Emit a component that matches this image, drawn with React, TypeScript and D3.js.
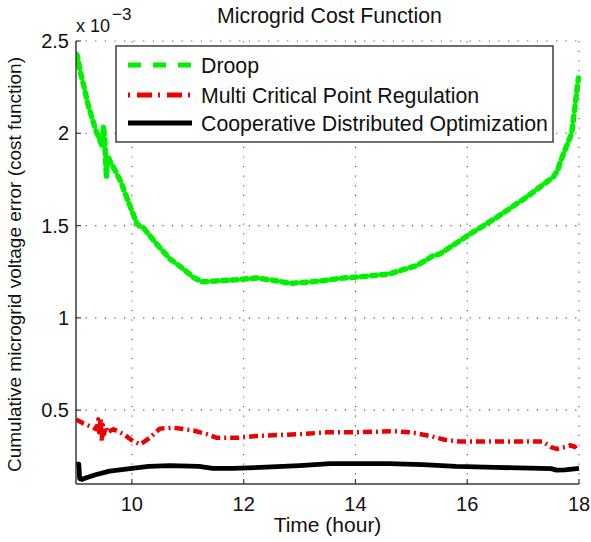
import React from "react";
import * as d3 from "d3";

const droopT = [9.0, 9.02, 9.08, 9.16, 9.22, 9.28, 9.35, 9.43, 9.47, 9.49, 9.51, 9.53, 9.545, 9.56, 9.58, 9.62, 9.68, 9.73, 9.8, 9.91, 10.0, 10.09, 10.15, 10.2, 10.32, 10.5, 10.68, 10.9, 11.1, 11.25, 11.5, 11.87, 12.23, 12.5, 12.83, 13.2, 13.54, 13.72, 14.13, 14.62, 15.09, 15.3, 15.39, 15.51, 16.01, 16.53, 17.06, 17.54, 17.62, 17.66, 17.75, 17.87, 17.93, 17.99];
const droopV = [2.43, 2.424, 2.33, 2.23, 2.15, 2.09, 2.02, 1.96, 1.93, 2.04, 1.98, 1.86, 1.76, 1.84, 1.87, 1.84, 1.81, 1.78, 1.74, 1.65, 1.58, 1.51, 1.495, 1.49, 1.445, 1.38, 1.32, 1.27, 1.22, 1.195, 1.2, 1.206, 1.216, 1.205, 1.187, 1.195, 1.206, 1.214, 1.224, 1.239, 1.283, 1.32, 1.337, 1.346, 1.446, 1.545, 1.654, 1.763, 1.8, 1.84, 1.91, 2.0, 2.15, 2.3];

const mcprT = [9.0, 9.12, 9.25, 9.37, 9.4, 9.42, 9.44, 9.46, 9.48, 9.5, 9.53, 9.56, 9.67, 9.85, 10.03, 10.15, 10.32, 10.5, 10.74, 11.1, 11.34, 11.52, 11.88, 12.24, 12.6, 13.0, 13.49, 14.0, 14.67, 15.0, 15.33, 15.6, 15.87, 16.5, 17.0, 17.35, 17.5, 17.6, 17.75, 17.85, 17.92, 17.98];
const mcprV = [0.45, 0.43, 0.413, 0.397, 0.45, 0.36, 0.46, 0.33, 0.42, 0.37, 0.41, 0.38, 0.397, 0.37, 0.33, 0.315, 0.35, 0.4, 0.405, 0.39, 0.37, 0.35, 0.35, 0.36, 0.365, 0.37, 0.38, 0.38, 0.386, 0.38, 0.36, 0.34, 0.33, 0.33, 0.33, 0.33, 0.3, 0.29, 0.3, 0.31, 0.3, 0.32];

const cdoT = [9.0, 9.05, 9.065, 9.1, 9.2, 9.35, 9.6, 10.0, 10.3, 10.68, 11.2, 11.45, 11.8, 12.3, 13.0, 13.55, 14.6, 15.2, 15.8, 16.5, 17.5, 17.6, 17.75, 18.0];
const cdoV = [0.207, 0.207, 0.13, 0.125, 0.135, 0.15, 0.17, 0.185, 0.195, 0.2, 0.195, 0.185, 0.185, 0.19, 0.2, 0.21, 0.21, 0.205, 0.195, 0.19, 0.183, 0.175, 0.177, 0.185];

const xTicks = [10, 12, 14, 16, 18];
const yTicks = [0.5, 1, 1.5, 2, 2.5];
const legendLabels = ["Droop", "Multi Critical Point Regulation", "Cooperative Distributed Optimization"];

const W = 591, H = 542;
const L = 76, R = 579, T = 41, B = 484;
const FONT = "'Liberation Sans', Arial, sans-serif";

export default function App() {
  const x = d3.scaleLinear().domain([9, 18]).range([L, R]);
  const y = d3.scaleLinear().domain([0.1, 2.5]).range([B, T]);
  const mk = (ts: number[], vs: number[]) =>
    d3.line<number>().x((_, i) => x(ts[i])).y((v) => y(v))(vs) || "";

  const series = [
    { d: mk(droopT, droopV), color: "#00f000", w: 5.5, dash: "5,5", cap: "round", ldash: "13,12", lcap: "butt" },
    { d: mk(mcprT, mcprV), color: "#ee0000", w: 4.5, dash: "9,4,2,4", cap: "butt", ldash: "2,7,15,6", lcap: "butt" },
    { d: mk(cdoT, cdoV), color: "#000000", w: 4.8, dash: "none", cap: "butt", ldash: "none", lcap: "butt" },
  ];

  const gridColor = "#555";
  const axisColor = "#3a3a3a";
  const legY = [65, 95, 123];

  return (
    <svg width={W} height={H} style={{ position: "absolute", left: 0, top: 0, background: "#fff" }} fontFamily={FONT}>
      <defs>
        <clipPath id="plotclip">
          <rect x={L} y={T - 5} width={R - L + 5} height={B - T + 5} />
        </clipPath>
      </defs>
      <rect x={0} y={0} width={W} height={H} fill="#fff" />
      {xTicks.map((t) => (
        <line key={"gx" + t} x1={x(t)} x2={x(t)} y1={B} y2={T} stroke={gridColor} strokeWidth={1.1} strokeDasharray="1.2,8.4" />
      ))}
      {yTicks.map((t) => (
        <line key={"gy" + t} x1={L} x2={R} y1={y(t)} y2={y(t)} stroke={gridColor} strokeWidth={1.1} strokeDasharray="1.2,8.4" />
      ))}
      <g clipPath="url(#plotclip)">
        {series.map((s, i) => (
          <path key={i} d={s.d} fill="none" stroke={s.color} strokeWidth={s.w} strokeDasharray={s.dash} strokeLinecap={s.cap as any} strokeLinejoin="round" />
        ))}
      </g>
      <line x1={L} x2={L} y1={T} y2={B} stroke={axisColor} strokeWidth={1.5} />
      <line x1={L} x2={R} y1={B} y2={B} stroke={axisColor} strokeWidth={1.5} />
      {yTicks.map((t) => (
        <g key={"yt" + t}>
          <line x1={L} x2={L + 5} y1={y(t)} y2={y(t)} stroke={axisColor} strokeWidth={1.2} />
          <text x={L - 7} y={y(t)} dy="0.36em" textAnchor="end" fontSize={20} fill="#111">{String(t)}</text>
        </g>
      ))}
      {xTicks.map((t) => (
        <g key={"xt" + t}>
          <line x1={x(t)} x2={x(t)} y1={B} y2={B - 5} stroke={axisColor} strokeWidth={1.2} />
          <text x={x(t)} y={511} textAnchor="middle" fontSize={20} fill="#111">{String(t)}</text>
        </g>
      ))}
      <text x={76} y={32} fontSize={18} fill="#111">
        x 10
        <tspan dx={2} dy={-12} fontSize={17}>−3</tspan>
      </text>
      <text x={(L + R) / 2 + 2} y={23} textAnchor="middle" fontSize={21.3} fill="#111">Microgrid Cost Function</text>
      <text x={(L + R) / 2} y={532} textAnchor="middle" fontSize={21} fill="#111">Time (hour)</text>
      <text transform={`translate(21, ${(T + B) / 2 + 2}) rotate(-90)`} textAnchor="middle" fontSize={19} fill="#111">
        Cumulative microgrid voltage error (cost function)
      </text>
      <rect x={116} y={46} width={437} height={96} fill="#fff" stroke="#222" strokeWidth={1.3} />
      {series.map((s, i) => (
        <g key={"lg" + i}>
          <line x1={128} x2={192} y1={legY[i]} y2={legY[i]} stroke={s.color} strokeWidth={5} strokeDasharray={s.ldash} strokeLinecap={s.lcap as any} />
          <text x={201} y={legY[i]} dy="0.36em" fontSize={21.3} fill="#111">{legendLabels[i]}</text>
        </g>
      ))}
    </svg>
  );
}
